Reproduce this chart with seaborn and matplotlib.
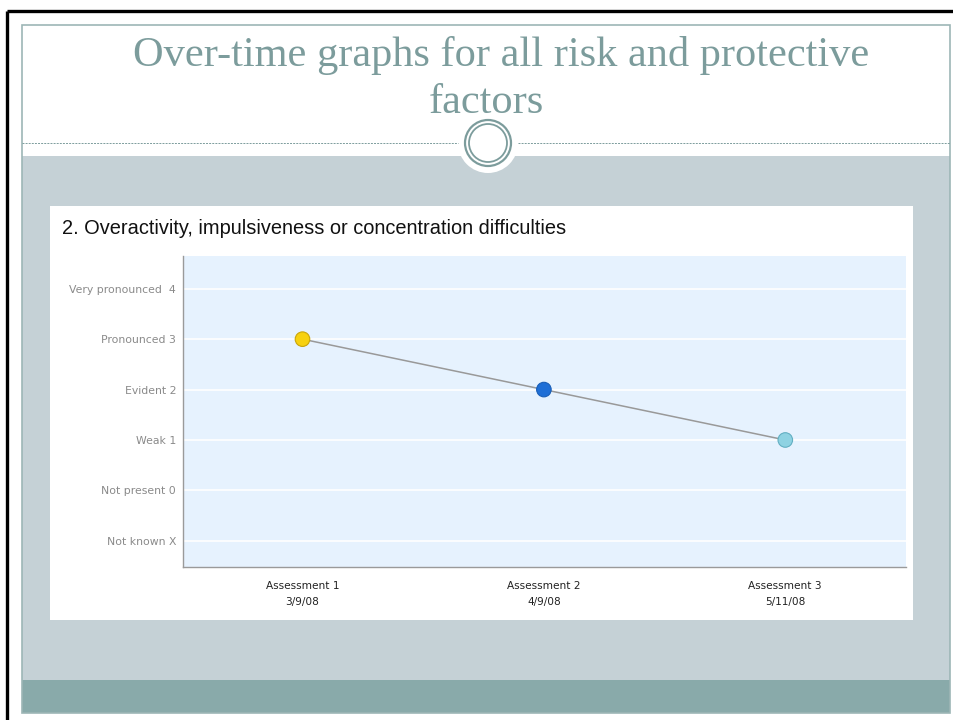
import matplotlib
matplotlib.use("Agg")
import matplotlib.pyplot as plt
from matplotlib.patches import Rectangle, Circle
import seaborn as sns
import pandas as pd

# Chart data
assessments = ["Assessment 1", "Assessment 2", "Assessment 3"]
dates = ["3/9/08", "4/9/08", "5/11/08"]
scores = [3, 2, 1]
marker_colors = ["#F7D10F", "#1F6FD6", "#8ED2E2"]
marker_edges = ["#C9A50A", "#1A5FB8", "#62AFC2"]
level_values = [-1, 0, 1, 2, 3, 4]
level_labels = ["Not known X", "Not present 0", "Weak 1", "Evident 2",
                "Pronounced 3", "Very pronounced  4"]
slide_title_lines = ["Over-time graphs for all risk and protective", "factors"]
chart_title = "2. Overactivity, impulsiveness or concentration difficulties"

W, H = 954, 720
TEAL = "#7C9C9C"

sns.set_theme(style="white")
fig = plt.figure(figsize=(W / 100, H / 100), dpi=100)
fig.patch.set_facecolor("white")

# Slide background drawn in pixel coordinates
bg = fig.add_axes([0, 0, 1, 1])
bg.set_xlim(0, W)
bg.set_ylim(H, 0)
bg.axis("off")

bg.add_patch(Rectangle((22, 156), 928, 524, facecolor="#C5D1D6", edgecolor="none"))
bg.add_patch(Rectangle((22, 680), 928, 33, facecolor="#89AAAA", edgecolor="none"))
bg.add_patch(Rectangle((22, 25), 928, 688, facecolor="none", edgecolor="#9DB6B6", lw=1.2))
bg.plot([7, 7], [11, H], color="black", lw=2.4, solid_capstyle="butt")
bg.plot([7, W], [11, 11], color="black", lw=2.4, solid_capstyle="butt")

# Divider with ring ornament
bg.plot([22, 458], [143, 143], color=TEAL, lw=0.7, ls=(0, (2, 1.2)))
bg.plot([518, 950], [143, 143], color=TEAL, lw=0.7, ls=(0, (2, 1.2)))
bg.add_patch(Circle((488, 143), 30, facecolor="white", edgecolor="none"))
bg.add_patch(Circle((488, 143), 23, facecolor="none", edgecolor=TEAL, lw=1.6))
bg.add_patch(Circle((488, 143), 19, facecolor="none", edgecolor=TEAL, lw=1.3))

# Slide heading, one text per line
for (xc, yb), line in zip([(501, 66), (486, 113)], slide_title_lines):
    bg.text(xc, yb, line, ha="center", va="baseline", fontsize=30.5,
            color=TEAL, family="Liberation Serif")

# White chart panel
bg.add_patch(Rectangle((50, 206), 863, 414, facecolor="white", edgecolor="none"))
bg.text(62, 229, chart_title, ha="left", va="center", fontsize=14.4,
        color="#111111", family="Liberation Sans")

# Plot area
left, right, top, bottom = 183, 906, 256, 567
ax = fig.add_axes([left / W, 1 - bottom / H, (right - left) / W, (bottom - top) / H])
ax.set_facecolor("#E6F2FE")

df = pd.DataFrame({"pos": range(len(assessments)), "score": scores,
                   "assessment": assessments})
sns.lineplot(data=df, x="pos", y="score", ax=ax, color="#999999", lw=1.1,
             zorder=2, legend=False)
sns.scatterplot(data=df, x="pos", y="score", hue="assessment",
                palette=marker_colors, s=110, ax=ax, zorder=3, legend=False,
                edgecolor=marker_edges, linewidth=0.8)

ax.set_xlim(-0.495, 2.5)
ax.set_ylim(-1.52, 4.65)
ax.set_yticks(level_values)
ax.set_yticklabels(level_labels, fontsize=7.8, color="#8A8A8A",
                   family="DejaVu Sans")
ax.set_xticks(range(len(assessments)))
ax.set_xticklabels([f"{a}\n{d}" for a, d in zip(assessments, dates)],
                   fontsize=7.6, color="#222222", family="DejaVu Sans",
                   linespacing=1.75)
ax.tick_params(axis="y", length=0, pad=5)
ax.tick_params(axis="x", length=0, pad=10)
ax.grid(axis="y", color="white", lw=1.2)
ax.grid(axis="x", visible=False)
ax.set_xlabel("")
ax.set_ylabel("")
for side in ["top", "right"]:
    ax.spines[side].set_visible(False)
for side in ["left", "bottom"]:
    ax.spines[side].set_visible(True)
    ax.spines[side].set_color("#9A9A9A")
    ax.spines[side].set_linewidth(1.0)

fig.savefig("out.png", dpi=100)
